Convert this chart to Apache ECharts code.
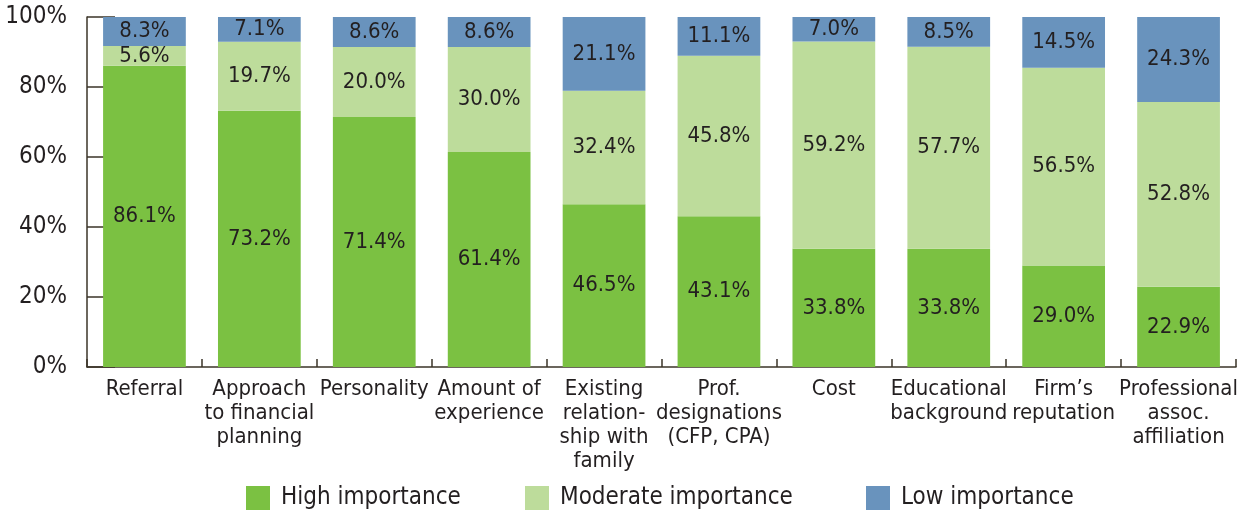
<!DOCTYPE html>
<html>
<head>
<meta charset="utf-8">
<title>Importance of factors when choosing a financial planner</title>
<script src="https://cdn.jsdelivr.net/npm/echarts@6/dist/echarts.min.js"></script>
<style>
  html, body { margin: 0; padding: 0; background: #ffffff; }
  #chart { width: 1241px; height: 514px; }
</style>
</head>
<body>
<div id="chart"></div>
<script>
// Factors (category axis), with manual line breaks for the axis labels
const categories = [
  'Referral',
  'Approach\nto financial\nplanning',
  'Personality',
  'Amount of\nexperience',
  'Existing\nrelation-\nship with\nfamily',
  'Prof.\ndesignations\n(CFP, CPA)',
  'Cost',
  'Educational\nbackground',
  'Firm\u2019s\nreputation',
  'Professional\nassoc.\naffiliation'
];

// Share of respondents (%) for each importance level
const highImportance     = [86.1, 73.2, 71.4, 61.4, 46.5, 43.1, 33.8, 33.8, 29.0, 22.9];
const moderateImportance = [5.6, 19.7, 20.0, 30.0, 32.4, 45.8, 59.2, 57.7, 56.5, 52.8];
const lowImportance      = [8.3, 7.1, 8.6, 8.6, 21.1, 11.1, 7.0, 8.5, 14.5, 24.3];

const seriesNames = ['High importance', 'Moderate importance', 'Low importance'];
const yTicks = [0, 20, 40, 60, 80, 100];

const FONT = "'Liberation Sans Narrow', 'DejaVu Sans Condensed', sans-serif";
const TEXT = '#231f20';
const AXIS = '#3b3428';
const colors = ['#7bc142', '#bddc9b', '#6993bd'];

const chart = echarts.init(document.getElementById('chart'), null, { renderer: 'canvas' });

function barSeries(name, data, color) {
  return {
    name: name,
    type: 'bar',
    stack: 'total',
    barWidth: '72%',
    data: data,
    itemStyle: { color: color },
    label: {
      show: true,
      position: 'inside',
      formatter: p => p.value.toFixed(1) + '%',
      color: TEXT,
      fontFamily: FONT,
      fontSize: 22
    },
    emphasis: { disabled: true }
  };
}

function legendAt(left, name) {
  return {
    left: left,
    top: 486,
    data: [name],
    icon: 'rect',
    itemWidth: 24,
    itemHeight: 24,
    itemGap: 0,
    padding: 0,
    textStyle: { color: TEXT, fontFamily: FONT, fontSize: 24, padding: [0, 0, 0, 6] },
    selectedMode: false
  };
}

chart.setOption({
  animation: false,
  color: colors,
  grid: { left: 87, right: 5, top: 17, bottom: 147, containLabel: false },
  legend: [
    legendAt(246, seriesNames[0]),
    legendAt(525, seriesNames[1]),
    legendAt(866, seriesNames[2])
  ],
  xAxis: {
    type: 'category',
    data: categories,
    boundaryGap: true,
    axisLine: { show: true, lineStyle: { color: AXIS, width: 1.5 } },
    axisTick: { show: true, inside: true, length: 8, alignWithLabel: false, lineStyle: { color: AXIS, width: 1.5 } },
    axisLabel: {
      interval: 0,
      margin: 10,
      color: TEXT,
      fontFamily: FONT,
      fontSize: 22,
      lineHeight: 24,
      align: 'center'
    }
  },
  yAxis: {
    type: 'value',
    min: 0,
    max: 100,
    interval: 20,
    axisLine: { show: true, lineStyle: { color: AXIS, width: 1.5 } },
    axisTick: { show: true, inside: true, length: 28, lineStyle: { color: AXIS, width: 1.5 } },
    splitLine: { show: false },
    axisLabel: {
      margin: 20,
      color: TEXT,
      fontFamily: FONT,
      fontSize: 24,
      formatter: v => (yTicks.includes(v) ? v + '%' : '')
    }
  },
  series: [
    barSeries(seriesNames[0], highImportance, colors[0]),
    barSeries(seriesNames[1], moderateImportance, colors[1]),
    barSeries(seriesNames[2], lowImportance, colors[2])
  ]
});
</script>
</body>
</html>
